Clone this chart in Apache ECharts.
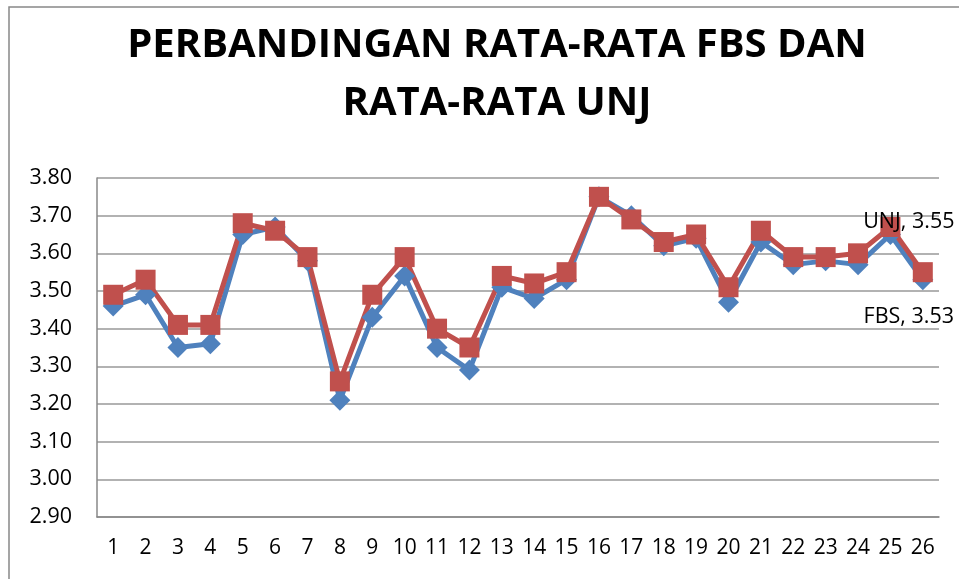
<!DOCTYPE html>
<html>
<head>
<meta charset="utf-8">
<script src="https://cdn.jsdelivr.net/npm/echarts@6/dist/echarts.min.js"></script>
<style>
html,body{margin:0;padding:0;background:#fff;}
#c{width:959px;height:579px;}
</style>
</head>
<body>
<div id="c"></div>
<script>
var categories = ['1','2','3','4','5','6','7','8','9','10','11','12','13','14','15','16','17','18','19','20','21','22','23','24','25','26'];
var fbs = [3.46,3.49,3.35,3.36,3.65,3.67,3.58,3.21,3.43,3.54,3.35,3.29,3.51,3.48,3.53,3.75,3.70,3.62,3.64,3.47,3.63,3.57,3.58,3.57,3.65,3.53];
var unj = [3.49,3.53,3.41,3.41,3.68,3.66,3.59,3.26,3.49,3.59,3.40,3.35,3.54,3.52,3.55,3.75,3.69,3.63,3.65,3.51,3.66,3.59,3.59,3.60,3.67,3.55];
var yTicks = {min: 2.9, max: 3.8, interval: 0.1};

var chart = echarts.init(document.getElementById('c'));
var F = 'Open Sans, Liberation Sans, sans-serif';
function lastLabel(name, arr, offset) {
  return arr.map(function (v, i) {
    if (i === arr.length - 1) {
      return {value: v, label: {show: true, formatter: name + ', ' + v.toFixed(2), position: 'top', offset: offset,
        color: '#000', fontSize: 21.5, fontFamily: F}};
    }
    return v;
  });
}
chart.setOption({
  animation: false,
  backgroundColor: '#fff',
  title: {
    text: 'PERBANDINGAN RATA-RATA FBS DAN\nRATA-RATA UNJ',
    left: 492, textAlign: 'center', top: 12,
    textStyle: {fontSize: 40, fontWeight: 'bold', color: '#000', fontFamily: F, lineHeight: 58}
  },
  graphic: [{
    type: 'rect', shape: {x: 9, y: 7, width: 1000, height: 1000},
    style: {fill: 'none', stroke: '#888', lineWidth: 1.5}, silent: true
  }],
  grid: {left: 97, right: 20, top: 178, bottom: 62},
  xAxis: {
    type: 'category', data: categories, boundaryGap: true,
    axisLine: {lineStyle: {color: '#888', width: 1.5}},
    axisTick: {show: false},
    axisLabel: {color: '#000', fontSize: 21, fontFamily: F, margin: 21}
  },
  yAxis: {
    type: 'value', min: yTicks.min, max: yTicks.max, interval: yTicks.interval,
    axisLine: {show: true, lineStyle: {color: '#888', width: 1.5}},
    axisTick: {show: false},
    splitLine: {lineStyle: {color: '#999', width: 1.5}},
    axisLabel: {color: '#000', fontSize: 21.5, fontFamily: F, margin: 25,
      formatter: function (v) { return v.toFixed(2); }}
  },
  series: [
    {name: 'FBS', type: 'line', data: lastLabel('FBS', fbs, [-14, 64]),
     symbol: 'diamond', symbolSize: 21,
     lineStyle: {color: '#4F81BD', width: 5}, itemStyle: {color: '#4F81BD'}},
    {name: 'UNJ', type: 'line', data: lastLabel('UNJ', unj, [-14, -24]),
     symbol: 'rect', symbolSize: 20,
     lineStyle: {color: '#C0504D', width: 5}, itemStyle: {color: '#C0504D'}}
  ]
});
</script>
</body>
</html>
